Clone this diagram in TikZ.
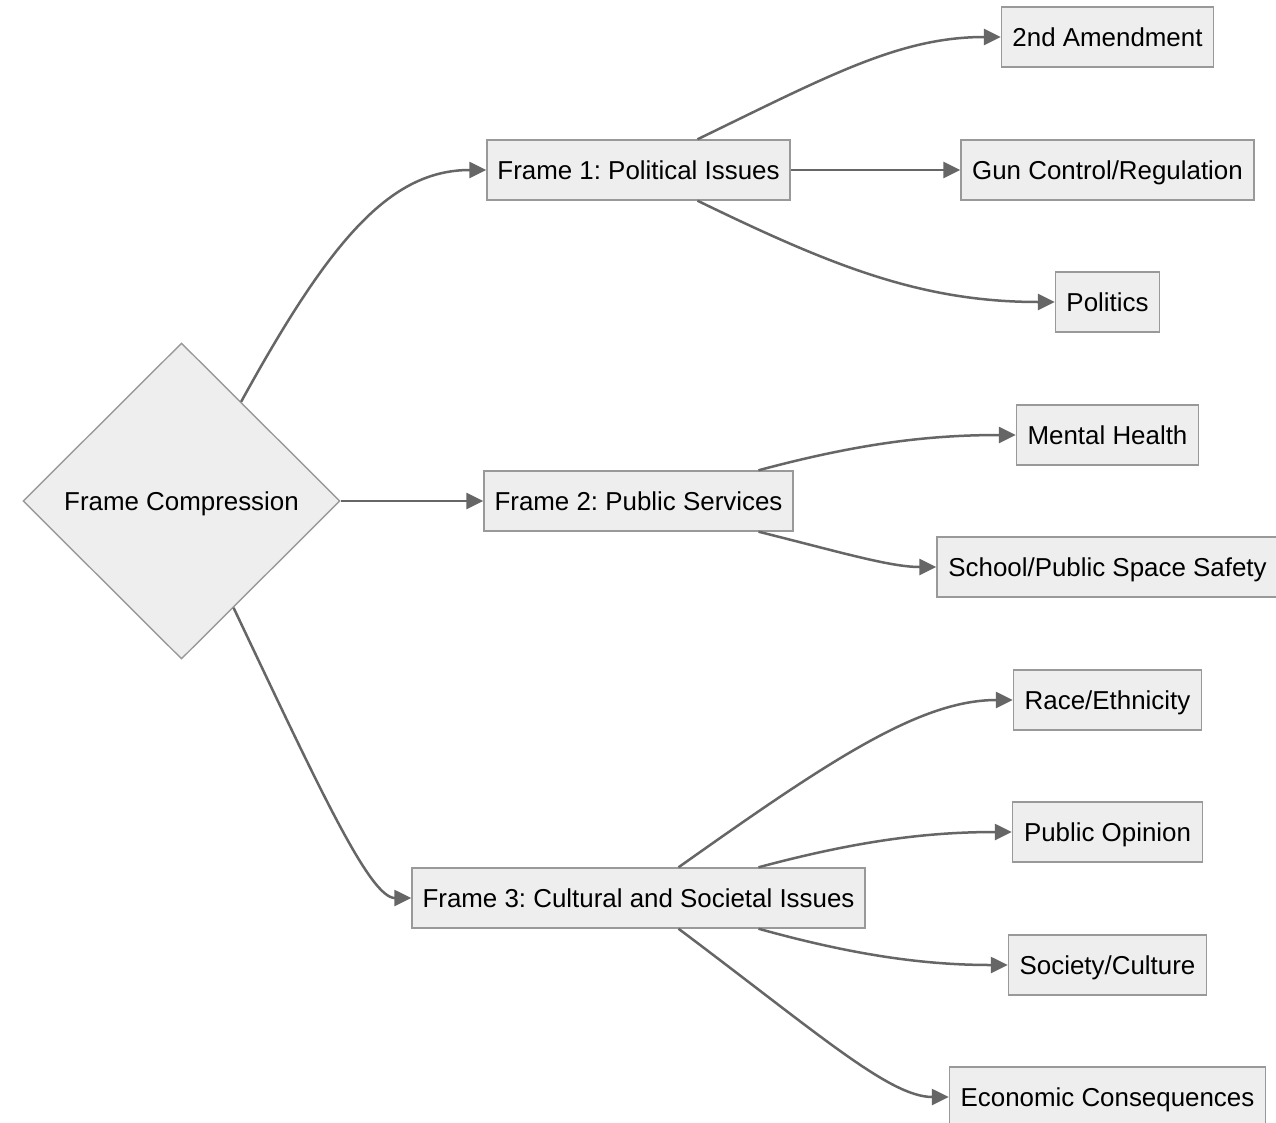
\documentclass[tikz,border=0pt]{standalone}
\usepackage{fontspec}
\setmainfont{Liberation Sans}
\usetikzlibrary{shapes.geometric,arrows.meta}
\definecolor{boxfill}{HTML}{EEEEEE}
\definecolor{boxline}{HTML}{999999}
\definecolor{edgecol}{HTML}{666666}
\frenchspacing
\begin{document}
\begin{tikzpicture}[x=1pt,y=-1pt,
  every node/.style={font=\fontsize{25.9}{31}\selectfont,text height=24pt,text depth=6pt},
  box/.style={draw=boxline,fill=boxfill,line width=1.4pt,inner sep=0pt,minimum height=60pt,anchor=center},
  dia/.style={draw=boxline,fill=boxfill,line width=1.4pt,shape=diamond,inner sep=0pt,minimum width=317pt,minimum height=316pt},
  edge/.style={draw=edgecol,line width=2.5pt,-{Triangle[length=17pt,width=16pt]}}]
\clip (0,0) rectangle (1276,1122);
\fill[white] (0,0) rectangle (1276,1122);
% nodes
\node[dia] (fc) at (181.5,501) {Frame Compression};
\node[box,minimum width=303pt] (f1) at (638.5,170) {Frame 1: Political Issues};
\node[box,minimum width=309pt] (f2) at (638.5,501) {Frame 2: Public Services};
\node[box,minimum width=453pt] (f3) at (638.5,898) {Frame 3: Cultural and Societal Issues};
\node[box,minimum width=212pt] (a1) at (1107.5,37) {2nd Amendment};
\node[box,minimum width=293pt] (a2) at (1107.5,170) {Gun Control/Regulation};
\node[box,minimum width=104pt] (a3) at (1107.5,302) {Politics};
\node[box,minimum width=182pt] (b1) at (1107.5,435) {Mental Health};
\node[box,minimum width=341pt] (b2) at (1107.5,567) {School/Public Space Safety};
\node[box,minimum width=188pt] (c1) at (1107.5,700) {Race/Ethnicity};
\node[box,minimum width=190pt] (c2) at (1107.5,832) {Public Opinion};
\node[box,minimum width=198pt] (c3) at (1107.5,965) {Society/Culture};
\node[box,minimum width=316pt] (c4) at (1107.5,1097) {Economic Consequences};
% edges
\path[edge] (fc.59) .. controls (330,240) and (390,170) .. (f1.west);
\path[edge] (fc.east) -- (f2.west);
\path[edge] (fc.-64) .. controls (320,790) and (370,898) .. (f3.west);
\path[edge] ([xshift=59pt]f1.north) .. controls (830,75) and (900,37) .. (a1.west);
\path[edge] (f1.east) -- (a2.west);
\path[edge] ([xshift=59pt]f1.south) .. controls (830,265) and (920,302) .. (a3.west);
\path[edge] ([xshift=120pt]f2.north) .. controls (860,443) and (930,435) .. (b1.west);
\path[edge] ([xshift=120pt]f2.south) .. controls (840,552) and (890,567) .. (b2.west);
\path[edge] ([xshift=40pt]f3.north) .. controls (830,760) and (920,700) .. (c1.west);
\path[edge] ([xshift=120pt]f3.north) .. controls (860,840) and (930,832) .. (c2.west);
\path[edge] ([xshift=120pt]f3.south) .. controls (860,957) and (930,965) .. (c3.west);
\path[edge] ([xshift=40pt]f3.south) .. controls (820,1035) and (890,1097) .. (c4.west);
\end{tikzpicture}
\end{document}
